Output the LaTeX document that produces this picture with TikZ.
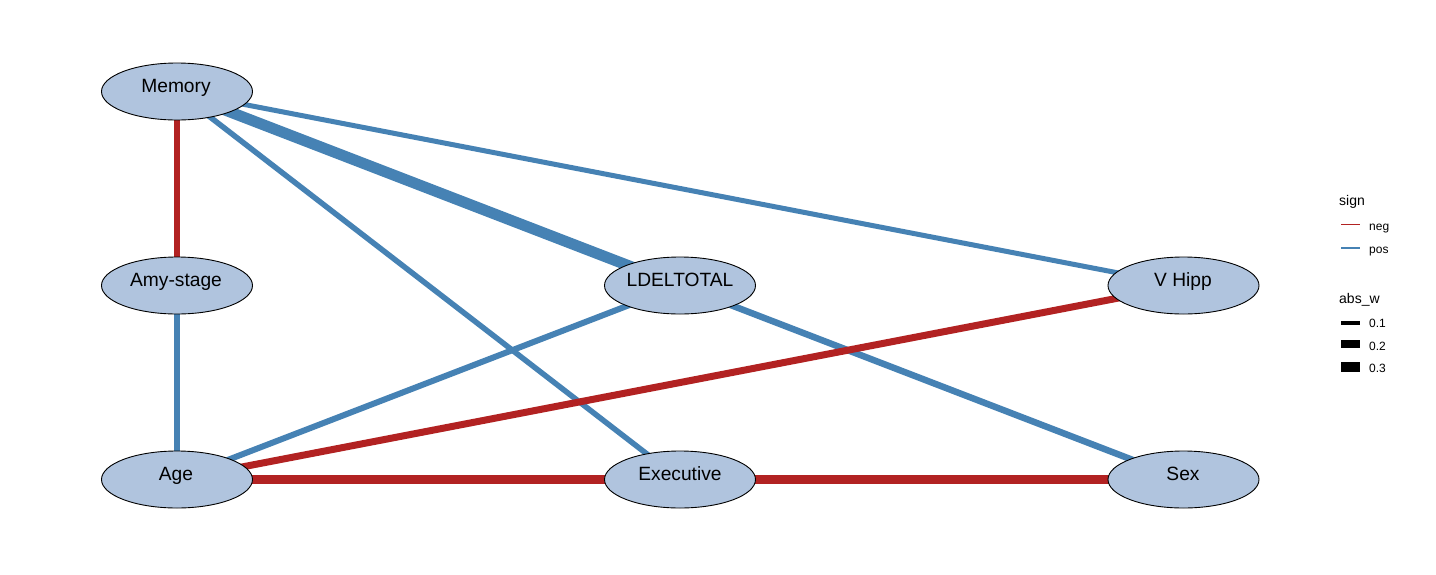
\documentclass[tikz,border=0pt]{standalone}
\usepackage{fontspec}
\setmainfont{Liberation Sans}
\usetikzlibrary{shapes.geometric}
\definecolor{posc}{RGB}{70,130,180}
\definecolor{negc}{RGB}{178,34,34}
\definecolor{nodefill}{RGB}{176,196,222}
\pgfdeclarelayer{bg}
\pgfsetlayers{bg,main}
\tikzset{
  vnode/.style={ellipse, draw=black, line width=0.9pt, fill=nodefill, minimum width=151pt, minimum height=57pt, inner sep=0pt},
  vlabel/.style={font=\fontsize{19.2}{21}\selectfont, text height=13.6pt, text depth=0pt, inner sep=0pt},
  posedge/.style={draw=posc},
  negedge/.style={draw=negc},
  legtitle/.style={font=\fontsize{14}{16}\selectfont, anchor=west, inner sep=0pt, text height=10pt, text depth=0pt},
  legtext/.style={font=\fontsize{12}{14}\selectfont, anchor=west, inner sep=0pt, text height=8.6pt, text depth=0pt},
}
\begin{document}
\begin{tikzpicture}[x=1pt,y=-1pt]
\useasboundingbox (0,0) rectangle (1436,574);
% nodes
\node[vnode] (mem) at (177,91.5) {};
\node[vnode] (amy) at (177,285.5) {};
\node[vnode] (age) at (177,479.5) {};
\node[vnode] (ldel) at (680,285.5) {};
\node[vnode] (exec) at (680,479.5) {};
\node[vnode] (vhipp) at (1183.5,285.5) {};
\node[vnode] (sex) at (1183.5,479.5) {};
\node[vlabel] (memT) at (176,85.5) {Memory};
\node[vlabel] (amyT) at (176,279.5) {Amy-stage};
\node[vlabel] (ageT) at (176,473.5) {Age};
\node[vlabel] (ldelT) at (680,279.5) {LDELTOTAL};
\node[vlabel] (execT) at (680,473.5) {Executive};
\node[vlabel] (vhippT) at (1183,279.5) {V Hipp};
\node[vlabel] (sexT) at (1183,473.5) {Sex};
% edges
\begin{pgfonlayer}{bg}
\fill[white] (0,0) rectangle (1436,574);
\draw[negedge, line width=6pt] (mem.center) -- (amy.center);
\draw[posedge, line width=6pt] (amy.center) -- (age.center);
\draw[posedge, line width=5pt] (mem.center) -- (vhipp.center);
\draw[posedge, line width=5.5pt] (mem.center) -- (exec.center);
\draw[posedge, line width=11pt] (mem.center) -- (ldel.center);
\draw[posedge, line width=6pt] (ldel.center) -- (age.center);
\draw[posedge, line width=6.5pt] (ldel.center) -- (sex.center);
\draw[negedge, line width=7pt] (vhipp.center) -- (age.center);
\draw[negedge, line width=9.5pt] (age.center) -- (exec.center);
\draw[negedge, line width=9pt] (exec.center) -- (sex.center);
\end{pgfonlayer}
% legend
\node[legtitle] (lsign) at (1339,200) {sign};
\coordinate (ln1) at (1341,224.5);
\coordinate (ln2) at (1360,224.5);
\draw[negedge, line width=1.2pt] (ln1) -- (ln2);
\node[legtext] (lneg) at (1369,226) {neg};
\coordinate (lp1) at (1341,248);
\coordinate (lp2) at (1360,248);
\draw[posedge, line width=1.2pt] (lp1) -- (lp2);
\node[legtext] (lpos) at (1369,249) {pos};
\node[legtitle] (labs) at (1339,298) {abs\_w};
\fill[black] (1341,320.6) rectangle (1360,325.3);
\node[legtext] (l01) at (1369,323) {0.1};
\fill[black] (1341,340) rectangle (1360,347.7);
\node[legtext] (l02) at (1369,346) {0.2};
\fill[black] (1341,361.6) rectangle (1360,372.3);
\node[legtext] (l03) at (1369,368) {0.3};
\end{tikzpicture}
\end{document}
